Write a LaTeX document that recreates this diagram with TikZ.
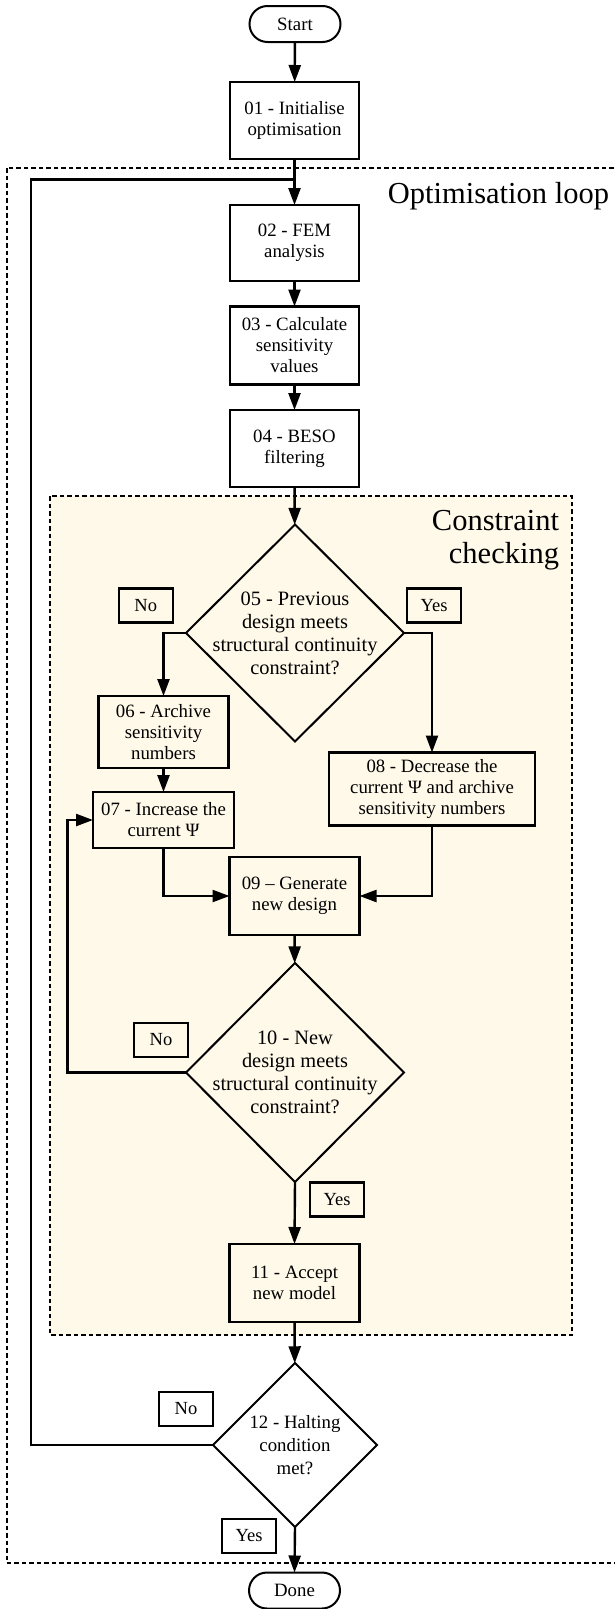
\documentclass[tikz,border=0pt]{standalone}
\usepackage{fontspec}
\setmainfont{Liberation Serif}
\usetikzlibrary{arrows.meta,shapes.geometric}
\definecolor{cream}{RGB}{255,249,234}
\begin{document}
\begin{tikzpicture}[x=1pt,y=-1pt,
  every node/.style={inner sep=0pt, outer sep=0pt, align=center},
  stepbox/.style={draw, line width=2.4pt, minimum width=129pt, minimum height=77pt,
    font=\fontsize{18.8}{21}\selectfont},
  decision/.style={draw, diamond, line width=2pt},
  dectext/.style={font=\fontsize{20.4}{23}\selectfont},
  terminal/.style={draw, rounded corners=18pt, line width=2pt, minimum width=91pt,
    minimum height=36pt, font=\fontsize{18.8}{21}\selectfont},
  answer/.style={draw, line width=2.2pt, minimum width=54pt, minimum height=34pt,
    font=\fontsize{18.5}{21}\selectfont},
  flow/.style={line width=2.4pt, -{Triangle[length=17pt,width=12pt]}},
  link/.style={line width=2.4pt},
  region/.style={line width=2pt, dash pattern=on 4.5pt off 3pt},
  regiontitle/.style={font=\fontsize{30.5}{33}\selectfont}
]
% page and background
\fill[white] (0,0) rectangle (614,1609);
\useasboundingbox (0,0) rectangle (614,1609);

% grouping regions
\draw[region] (6.5,168) rectangle (640,1563);
\draw[region, fill=cream] (50,496) rectangle (572,1335);
\node[regiontitle, anchor=base east] (looptitle) at (609,203) {Optimisation loop};
\node[regiontitle, anchor=base east] (checktitle1) at (559,530.5) {Constraint};
\node[regiontitle, anchor=base east] (checktitle2) at (559,563.5) {checking};

% process steps
\node[terminal] (start) at (295,24) {Start};
\node[stepbox] (s01) at (294.5,120.5) {01 - Initialise\\optimisation};
\node[stepbox, minimum height=76pt] (s02) at (294.5,243) {02 - FEM\\analysis};
\node[stepbox, minimum height=78pt] (s03) at (294.5,345.5) {03 - Calculate\\sensitivity\\values};
\node[stepbox] (s04) at (294.5,448.5) {04 - BESO\\filtering};

\node[decision, minimum width=218pt, minimum height=217pt] (d05) at (295,633) {};
\node[dectext] (t05) at (d05.center) {05 - Previous\\design meets\\structural continuity\\constraint?};

\node[stepbox, minimum width=130pt, minimum height=72pt] (s06) at (163.5,732) {06 - Archive\\sensitivity\\numbers};
\node[stepbox, minimum width=141pt, minimum height=56pt] (s07) at (163.5,820) {07 - Increase the\\current Ψ};
\node[stepbox, minimum width=206pt, minimum height=73pt] (s08) at (432,789) {08 - Decrease the\\current Ψ and archive\\sensitivity numbers};
\node[stepbox, minimum width=130pt, minimum height=78pt] (s09) at (294.5,896) {09 – Generate\\new design};

\node[decision, minimum width=218pt, minimum height=219pt] (d10) at (295,1072.5) {};
\node[dectext] (t10) at (d10.center) {10 - New\\design meets\\structural continuity\\constraint?};

\node[stepbox, minimum width=130pt, minimum height=78pt] (s11) at (294.5,1283) {11 - Accept\\new model};

\node[decision, minimum width=164pt, minimum height=164pt] (d12) at (295,1445) {};
\node[font=\fontsize{18.8}{23}\selectfont] (t12) at (d12.center) {12 - Halting\\condition\\met?};

\node[terminal] (done) at (294.5,1590.5) {Done};

% branch labels
\node[answer] (n05) at (145.7,605.5) {No};
\node[answer] (y05) at (434,605.5) {Yes};
\node[answer] (n10) at (161,1040) {No};
\node[answer] (y10) at (337,1199.5) {Yes};
\node[answer] (n12) at (186,1409) {No};
\node[answer] (y12) at (249,1536) {Yes};

% connectors
\coordinate (merge) at (294.5,179.5);
\coordinate (fb10) at (67.5,950);
\coordinate (fb12) at (31,800);

\draw[flow] (start) -- (s01);
\draw[flow] (s01) -- (s02);
\draw[flow] (s02) -- (s03);
\draw[flow] (s03) -- (s04);
\draw[flow] (s04) -- (d05);
\draw[flow] (d05.west) -| (s06.north);
\draw[flow] (d05.east) -| (s08.north);
\draw[flow] (s06) -- (s07);
\draw[flow] (s07.south) |- (s09.west);
\draw[flow] (s08.south) |- (s09.east);
\draw[flow] (s09) -- (d10);
\draw[flow] (d10.west) -| (fb10) |- (s07.west);
\draw[flow] (d10.south) -- (s11.north);
\draw[flow] (s11) -- (d12);
\draw[link] (d12.west) -| (fb12) |- (merge);
\draw[flow] (d12.south) -- (done.north);
\end{tikzpicture}
\end{document}
